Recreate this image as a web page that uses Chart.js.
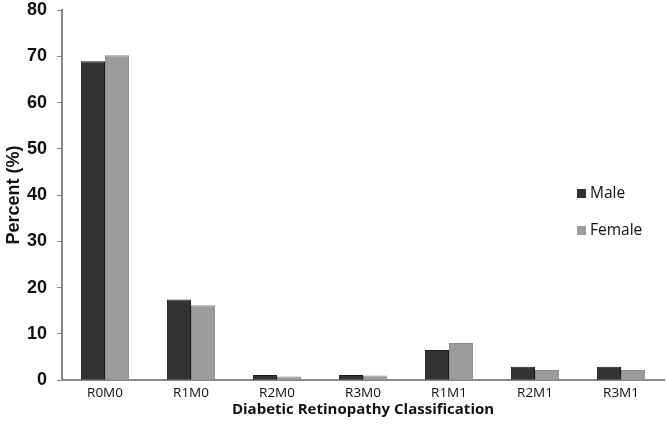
<!DOCTYPE html>
<html>
<head>
<meta charset="utf-8">
<script src="https://cdn.jsdelivr.net/npm/chart.js@4/dist/chart.umd.min.js"></script>
<style>
    html, body { margin: 0; padding: 0; background: #fff; }
    #wrap { width: 666px; height: 441px; }
</style>
</head>
<body>
<div id="wrap"><canvas id="drChart"></canvas></div>
<script>
// Data
const categories = ["R0M0", "R1M0", "R2M0", "R3M0", "R1M1", "R2M1", "R3M1"];
const maleValues = [68.9, 17.4, 1.1, 1.1, 6.5, 2.9, 2.9];
const femaleValues = [70.2, 16.2, 0.8, 1.0, 8.0, 2.2, 2.2];
const yTicks = [0, 10, 20, 30, 40, 50, 60, 70, 80];

// Legend drawn inside the plot, on the right, like the original
const insideLegend = {
    id: "insideLegend",
    afterDraw(chart) {
        const ctx = chart.ctx;
        const x = 577;
        const rows = [194, 231];
        ctx.save();
        ctx.font = "15.5px 'Open Sans', sans-serif";
        ctx.textBaseline = "middle";
        chart.data.datasets.forEach((ds, i) => {
            ctx.fillStyle = ds.backgroundColor;
            ctx.fillRect(x, rows[i] - 5, 9, 9);
            ctx.fillStyle = "#111";
            ctx.fillText(ds.label, x + 13, rows[i]);
        });
        ctx.restore();
    }
};

const ctx = document.getElementById("drChart").getContext("2d");
new Chart(ctx, {
    type: "bar",
    data: {
        labels: categories,
        datasets: [
            {
                label: "Male",
                data: maleValues,
                backgroundColor: "#333333",
                borderColor: "#1a1a1a",
                borderWidth: 1,
            },
            {
                label: "Female",
                data: femaleValues,
                backgroundColor: "#9c9c9c",
                borderColor: "#8a8a8a",
                borderWidth: 1,
            },
        ],
    },
    options: {
        responsive: true,
        maintainAspectRatio: false,
        animation: false,
        layout: { padding: { top: 0, right: 2, bottom: 22, left: 3 } },
        datasets: {
            bar: { barPercentage: 1.0, categoryPercentage: 0.56 },
        },
        plugins: {
            legend: { display: false },
            tooltip: { enabled: false },
        },
        scales: {
            x: {
                grid: { display: false, drawTicks: false },
                border: { color: "#888", width: 2 },
                ticks: {
                    color: "#111",
                    font: { family: "'Open Sans', sans-serif", size: 13.5, lineHeight: 1.25 },
                    padding: 5,
                },
                title: {
                    display: true,
                    text: "Diabetic Retinopathy Classification",
                    color: "#111",
                    font: { family: "'Open Sans', sans-serif", size: 15, weight: "bold", lineHeight: 1.2 },
                    padding: { top: -6, bottom: 0 },
                },
            },
            y: {
                min: 0,
                max: 80,
                afterBuildTicks(axis) {
                    axis.ticks = yTicks.map((v) => ({ value: v }));
                },
                afterFit(axis) {
                    axis.width = 59;
                    axis.paddingTop = 10;
                },
                grid: {
                    drawOnChartArea: false,
                    tickLength: 5,
                    color: "#888",
                },
                border: { color: "#888", width: 2 },
                ticks: {
                    color: "#111",
                    font: { family: "'Liberation Sans', Arial, sans-serif", size: 18, weight: "bold", lineHeight: 1.0 },
                    padding: 10,
                },
                title: {
                    display: true,
                    text: "Percent (%)",
                    color: "#111",
                    font: { family: "'Liberation Sans', Arial, sans-serif", size: 18, weight: "bold" },
                    padding: { top: 0, bottom: 0 },
                },
            },
        },
    },
    plugins: [insideLegend],
});
</script>
</body>
</html>
